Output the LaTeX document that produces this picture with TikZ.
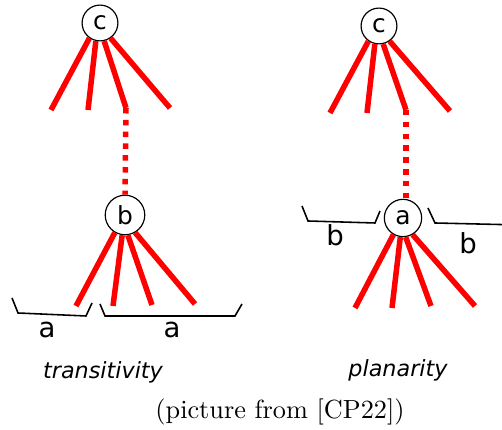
\documentclass[tikz,border=0pt]{standalone}
\usepackage{fontspec}
\newfontfamily\djv{DejaVu Sans}
\tikzset{
  vtx/.style={draw, circle, line width=0.45pt, minimum size=0.48cm, inner sep=0pt, font=\djv\fontsize{9.5}{10}\selectfont},
  redline/.style={red, line width=2.1pt},
  redchain/.style={red, line width=2.1pt, dash pattern=on 2.1pt off 2.4pt},
  brack/.style={line width=0.6pt},
  brlabel/.style={font=\djv\fontsize{10.5}{12}\selectfont},
  rulename/.style={font=\djv\itshape\fontsize{8.5}{10}\selectfont}
}
\begin{document}
\begin{tikzpicture}[x=0.0134cm, y=-0.0134cm]
  \clip (0,0) rectangle (502,430);
  % transitivity
  \node[vtx] (c1) at (100,23) {c};
  \node[vtx, minimum size=0.53cm] (b1) at (125,215) {b};
  \foreach \i/\ang/\x/\y in {1/-125/51/110, 2/-103/88/110, 3/-77/126/108, 4/-55/170/108} {
    \coordinate (u\i) at (\x,\y);
    \draw[redline] (c1.\ang) -- (u\i);
  }
  \draw[redchain] (u3) -- (b1.north);
  \foreach \i/\ang/\x/\y in {1/-120/76/306, 2/-98/113/306, 3/-82/152/305, 4/-60/195/304} {
    \coordinate (v\i) at (\x,\y);
    \draw[redline] (b1.\ang) -- (v\i);
  }
  \draw[brack] (12,298) -- (18,313) -- (86,316) -- (92,303);
  \draw[brack] (100,304) -- (105,316) -- (235,316) -- (242,304);
  \node[brlabel] (la1) at (47,330) {a};
  \node[brlabel] (la2) at (172,330) {a};
  \node[rulename] (tr) at (103,372) {transitivity};
  % planarity
  \node[vtx] (c2) at (379,26) {c};
  \node[vtx, minimum size=0.5cm] (a2) at (403,218) {a};
  \foreach \i/\ang/\x/\y in {1/-125/330/113, 2/-103/367/113, 3/-77/406/110, 4/-55/450/111} {
    \coordinate (p\i) at (\x,\y);
    \draw[redline] (c2.\ang) -- (p\i);
  }
  \draw[redchain] (p3) -- (p3 |- a2.north);
  \foreach \i/\ang/\x/\y in {1/-120/355/308, 2/-98/392/308, 3/-82/431/306, 4/-60/475/306} {
    \coordinate (q\i) at (\x,\y);
    \draw[redline] (a2.\ang) -- (q\i);
  }
  \draw[brack] (302,206) -- (308,221) -- (375,223) -- (380,211);
  \draw[brack] (428,208) -- (435,223) -- (520,225);
  \node[brlabel] (lb1) at (335,235) {b};
  \node[brlabel] (lb2) at (468,243) {b};
  \node[rulename] (pl) at (398,370) {planarity};
  \node (src) at (280,412) {(picture from [CP22])};
\end{tikzpicture}
\end{document}
